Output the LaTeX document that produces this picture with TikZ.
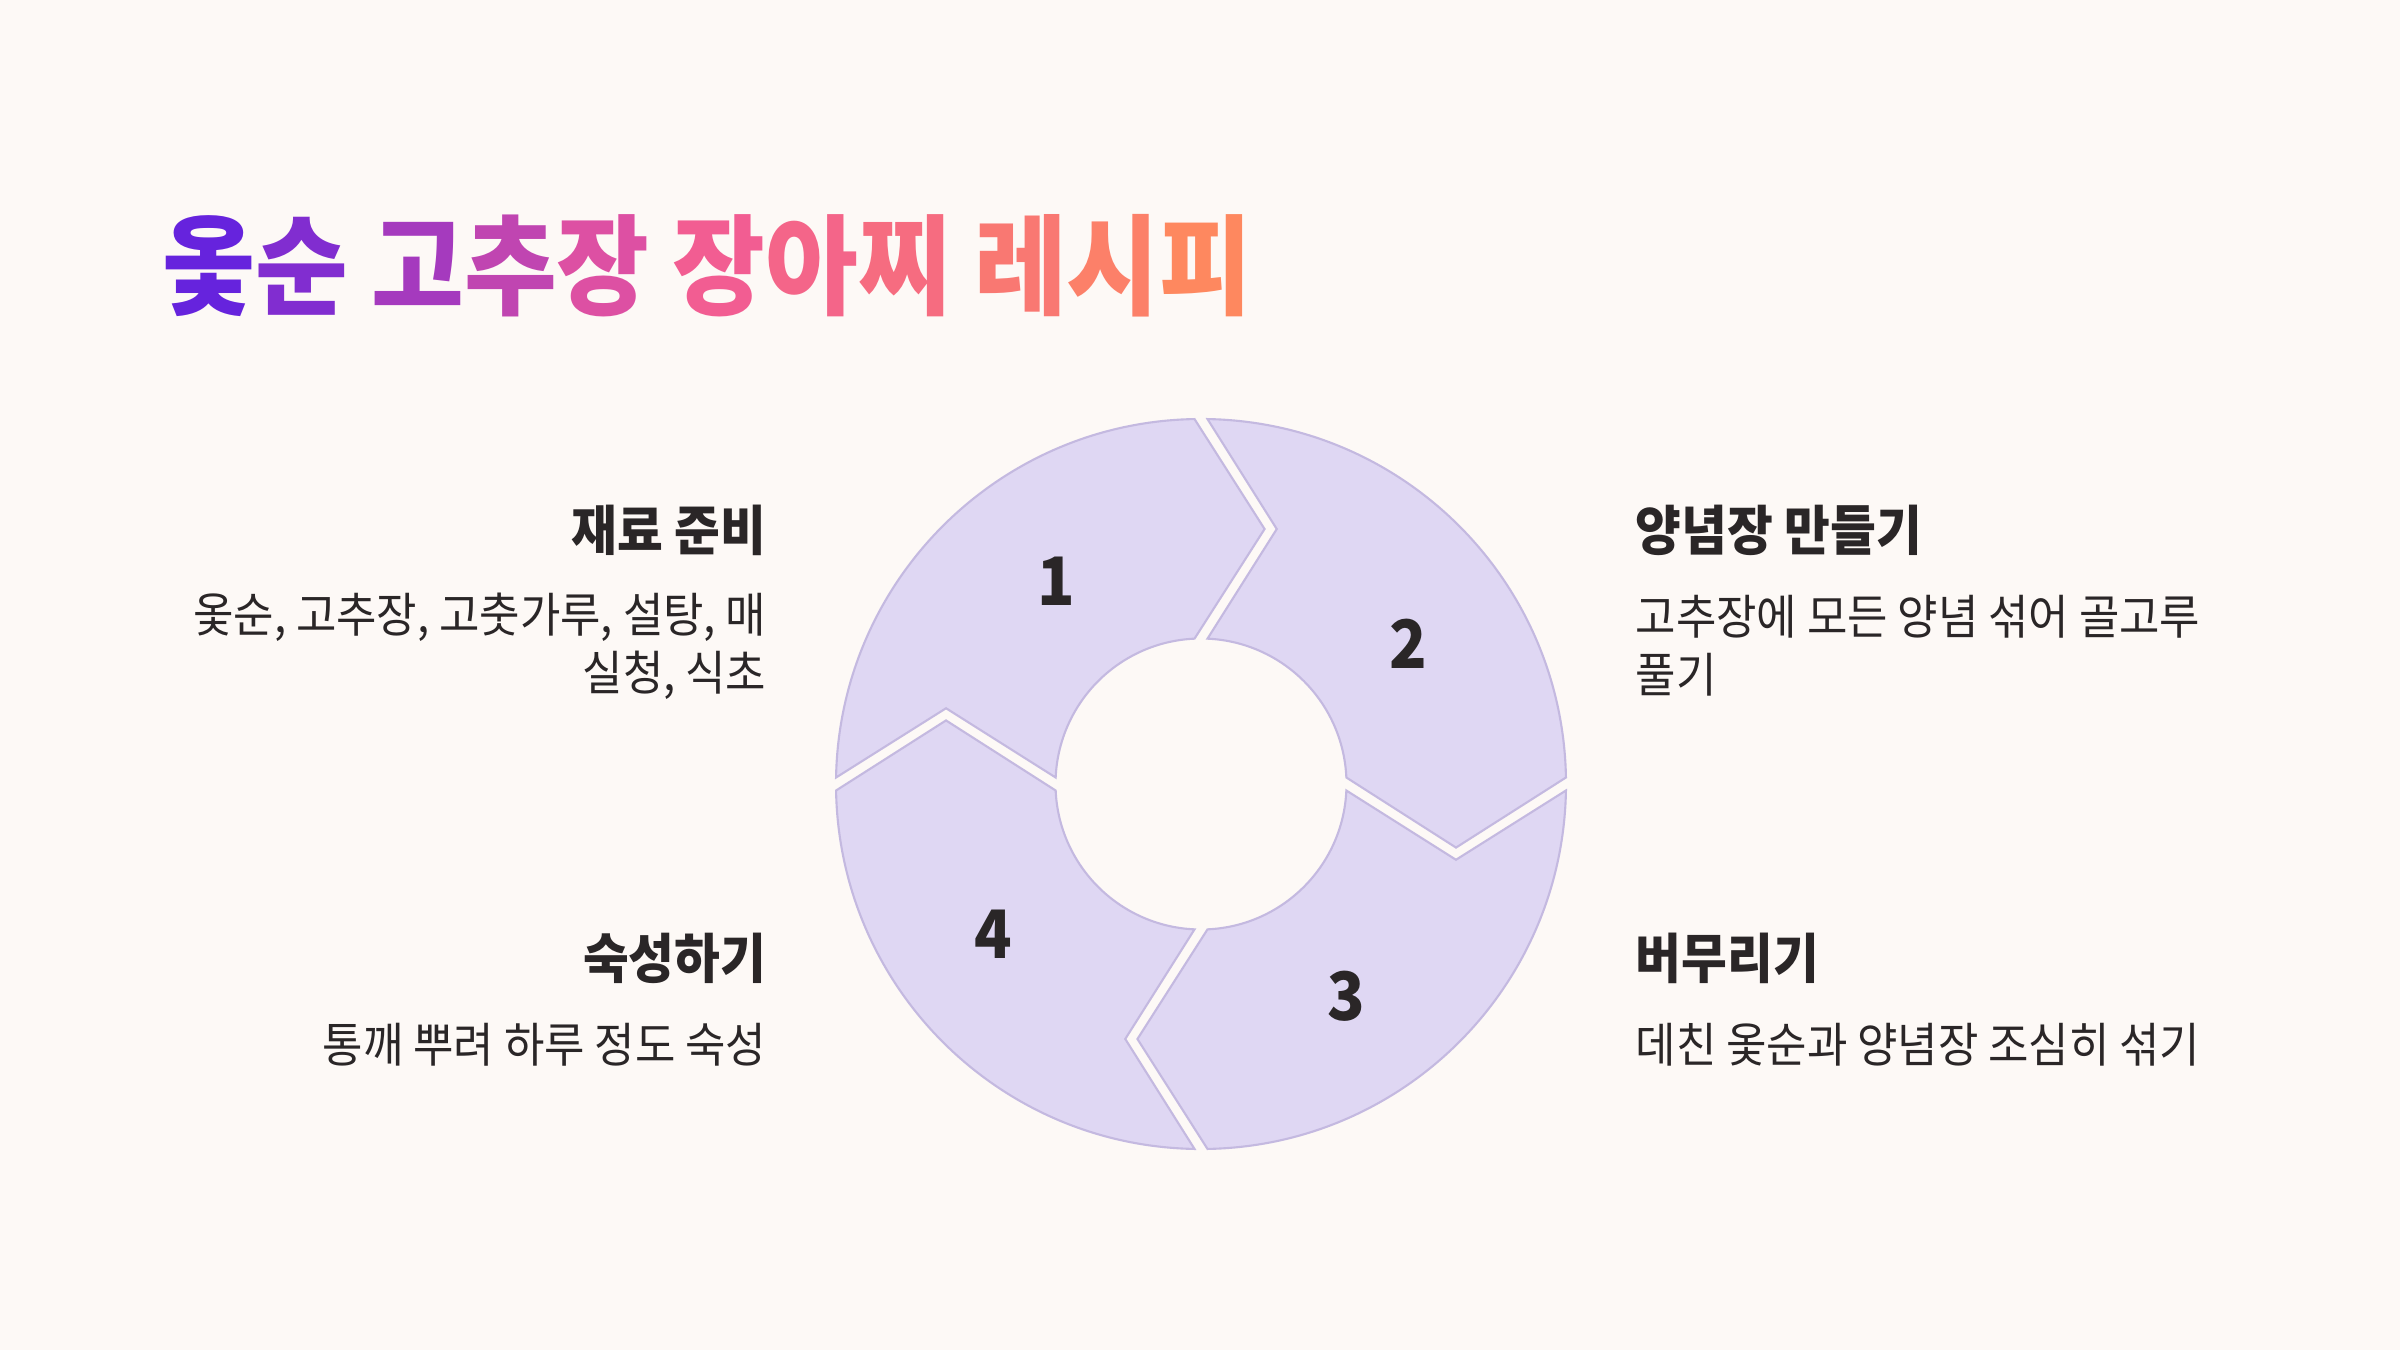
\documentclass[tikz,border=0pt]{standalone}
\usepackage{fontspec}
\setmainfont{Noto Sans CJK KR}[FakeStretch=0.925]
\usepackage{tikz}
\definecolor{bg}{HTML}{FDF9F6}
\definecolor{ringfill}{HTML}{DFD7F3}
\definecolor{ringline}{HTML}{C4B9E0}
\definecolor{ink}{HTML}{2A2627}
\definecolor{tA}{HTML}{5A1EE3}
\definecolor{tB}{HTML}{F0579A}
\definecolor{tC}{HTML}{FF8B5B}

\begin{document}
\begin{tikzpicture}[x=0.01cm,y=0.01cm,
  seg/.style={fill=ringfill,draw=ringline,line width=0.6pt},
  num/.style={font=\fontsize{19pt}{19pt}\selectfont\bfseries,text=ink},
  head/.style={font=\fontsize{15.3pt}{18pt}\selectfont\bfseries,text=ink,inner sep=0pt},
  body/.style={font=\fontsize{13.5pt}{16.4pt}\selectfont,text=ink,inner sep=0pt}]

\fill[bg] (0,0) rectangle (2400,1350);
\useasboundingbox (0,0) rectangle (2400,1350);

\node[anchor=west,inner sep=0pt,font=\fontsize{31pt}{31pt}\selectfont\bfseries] (title) at (162,1084)
  {\textcolor{tB!8!tA}{옻}\textcolor{tB!26!tA}{순} \textcolor{tB!50!tA}{고}\textcolor{tB!68!tA}{추}\textcolor{tB!87!tA}{장} \textcolor{tC!12!tB}{장}\textcolor{tC!27!tB}{아}\textcolor{tC!41!tB}{찌} \textcolor{tC!63!tB}{레}\textcolor{tC!78!tB}{시}\textcolor{tC!94!tB}{피}};

\begin{scope}[shift={(1201,566)}]
\foreach \a [count=\k] in {180,90,0,-90}{
  \pgfmathsetmacro\e{\a-90}
  \draw[seg] ({\a-1.02}:365) arc[start angle=\a-1.02,end angle=\e+1.02,radius=365]
    -- ({\e-14}:262.8) -- ({\e+2.56}:145.5)
    arc[start angle=\e+2.56,end angle=\a-2.56,radius=145.5]
    -- ({\a-16.55}:266) -- cycle;
  \node[num] (n\k) at ([yshift=-1.4pt]{\a-55}:253) {\k};
}
\end{scope}

\node[head,anchor=east] (h1) at (767,820) {재료 준비};
\node[body,anchor=east,align=right] (b1) at (767,704) {옻순, 고추장, 고춧가루, 설탕, 매\\실청, 식초};
\node[head,anchor=west] (h2) at (1635,820) {양념장 만들기};
\node[body,anchor=west,align=left] (b2) at (1635,704) {고추장에 모든 양념 섞어 골고루\\풀기};
\node[head,anchor=west] (h3) at (1635,392) {버무리기};
\node[body,anchor=west] (b3) at (1635,305) {데친 옻순과 양념장 조심히 섞기};
\node[head,anchor=east] (h4) at (767,392) {숙성하기};
\node[body,anchor=east] (b4) at (767,305) {통깨 뿌려 하루 정도 숙성};
\end{tikzpicture}
\end{document}
